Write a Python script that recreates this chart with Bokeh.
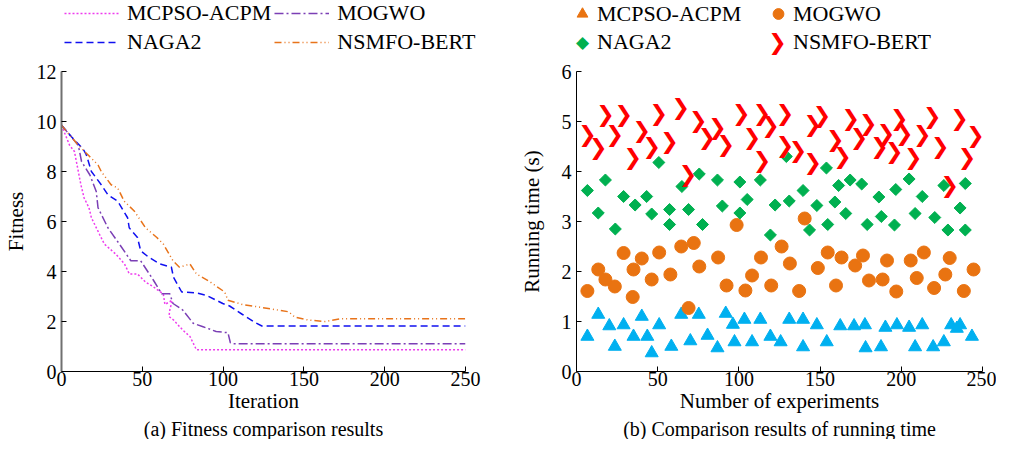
import numpy as np
from bokeh.plotting import figure
from bokeh.models import Range1d, Legend, LegendItem, Title, ColumnDataSource, Label
from bokeh.layouts import row, column
from bokeh.embed import file_html
from bokeh.resources import INLINE
from bokeh.core.properties import value

FONT = "Liberation Serif"

# ---------------- (a) Fitness comparison data ----------------
names = ["MCPSO-ACPM", "MOGWO", "NAGA2", "NSMFO-BERT"]

mcpso_it = [0, 5, 8, 12, 14, 17, 18.5, 23.5, 26.5, 33.5, 39, 42, 47, 52, 57, 63, 64, 68.5, 67, 66.5, 69.5, 75, 79.5, 83.5, 250]
mcpso_fit = [9.85, 9.05, 8.8, 7.47, 6.94, 6.55, 6.15, 5.49, 5.1, 4.7, 4.3, 3.9, 3.9, 3.58, 3.38, 3.1, 2.68, 2.85, 2.45, 2.2, 2.05, 1.66, 1.4, 0.87, 0.87]

mogwo_it = [0, 10.4, 12.4, 17.5, 21.5, 22.6, 28.7, 35.8, 42.9, 49, 57, 62, 67, 69, 75, 81.5, 87.6, 95.7, 103, 104.5, 106, 250]
mogwo_fit = [9.85, 9.05, 8.4, 7.87, 7.2, 6.55, 5.75, 5.1, 4.43, 4.43, 3.64, 3.11, 3.11, 2.72, 2.46, 1.93, 1.79, 1.6, 1.55, 1.15, 1.11, 1.11]

naga_it = [0, 6.3, 13.4, 15.4, 18.5, 24.6, 28.7, 34.8, 40.9, 41.9, 47, 49, 54, 61, 68, 69.3, 74.4, 83.5, 89.6, 99.8, 104, 112, 120, 124, 250]
naga_fit = [9.85, 9.38, 8.9, 8.66, 8.0, 7.47, 7.07, 6.81, 6.15, 5.75, 5.36, 4.83, 4.57, 4.3, 4.17, 3.77, 3.18, 3.14, 3.05, 2.72, 2.62, 2.28, 1.95, 1.82, 1.82]

nsmfo_it = [0, 10.4, 16.5, 22.6, 24.6, 30.7, 34.8, 38.8, 45, 52, 59, 63, 69, 73, 79.5, 83.5, 91.6, 101, 103, 112, 128, 140.5, 144.5, 152.6, 163, 173, 250]
nsmfo_fit = [9.85, 9.05, 8.66, 8.26, 8.0, 7.47, 7.34, 6.81, 6.42, 5.75, 5.36, 5.1, 4.43, 4.17, 4.3, 3.9, 3.6, 3.18, 2.85, 2.68, 2.52, 2.39, 2.17, 2.06, 2.0, 2.11, 2.11]

fit_xticks = [0, 50, 100, 150, 200, 250]
fit_yticks = [0, 2, 4, 6, 8, 10, 12]

# ---------------- (b) Running time data ----------------
mcpso_exp = [6.7, 13.4, 20.2, 23.6, 29.0, 35.1, 40.2, 43.6, 46.3, 50.9, 58.4, 64.5, 70.1, 75.3, 80.7, 86.8, 91.9, 96.3, 97.3, 103.4,
             108.1, 113.2, 119.4, 125.7, 131.0, 139.5, 148.0, 139.5, 154.1, 162.4, 170.9, 177.6, 178.0, 187.5, 190.2, 197.3, 204.8,
             208.5, 212.9, 219.6, 226.2, 230.7, 234.2, 236.2, 243.5]
mcpso_time = [0.70, 1.14, 0.91, 0.50, 0.93, 0.70, 1.10, 0.70, 0.37, 0.93, 0.50, 1.14, 0.61, 1.14, 0.72, 0.47, 1.16, 0.94, 0.59, 1.04,
              0.59, 1.04, 0.70, 0.59, 1.04, 1.04, 0.93, 0.49, 0.59, 0.91, 0.91, 0.93, 0.47, 0.49, 0.88, 0.93, 0.88,
              0.49, 0.93, 0.49, 0.59, 0.93, 0.86, 0.93, 0.70]

mogwo_exp = [6.7, 13.4, 17.8, 23.6, 29.0, 35.1, 34.6, 40.2, 46.3, 50.9, 57.8, 64.5, 72.2, 75.6, 69.0, 87.2, 92.4, 98.6, 104.0, 108.1,
             113.6, 119.9, 126.3, 131.4, 140.5, 137.1, 148.6, 154.7, 159.8, 163.2, 171.6, 176.4, 180.1, 188.5, 191.2, 196.9, 205.8,
             209.5, 213.9, 220.2, 227.1, 229.8, 238.5, 244.5]
mogwo_time = [1.61, 2.04, 1.84, 1.70, 2.37, 2.04, 1.49, 2.26, 1.84, 2.38, 1.94, 2.50, 2.57, 2.10, 1.27, 2.28, 1.72, 2.93, 1.62, 1.92,
              2.28, 1.72, 2.50, 2.16, 3.06, 1.61, 2.07, 2.38, 1.72, 2.28, 2.12, 2.32, 1.82, 1.84, 2.22, 1.60, 2.22,
              1.87, 2.38, 1.67, 1.94, 2.27, 1.61, 2.04]

naga_exp = [50.7, 6.7, 17.8, 13.4, 29.0, 36.1, 43.2, 46.3, 23.9, 57.3, 57.3, 64.9, 69.0, 75.6, 77.6, 86.8, 89.8, 100.6, 105.1, 100.6,
            113.2, 122.3, 119.4, 129.2, 153.9, 139.5, 131.0, 148.0, 161.4, 168.5, 175.6, 159.1, 165.8, 143.5, 154.7, 179.0,
            186.2, 187.7, 196.6, 195.8, 204.8, 212.9, 208.5, 220.6, 226.2, 239.4, 236.2, 228.7, 239.4]
naga_time = [4.18, 3.62, 3.83, 3.17, 3.50, 3.33, 3.50, 3.15, 2.85, 3.24, 2.94, 3.70, 3.24, 3.95, 2.94, 3.83, 3.31, 3.79, 3.44, 3.17,
             3.83, 3.33, 2.73, 4.30, 4.07, 3.62, 3.41, 3.32, 3.72, 3.83, 3.75, 3.39, 3.16, 2.83, 2.94, 2.94,
             3.49, 3.10, 3.64, 2.93, 3.85, 3.50, 3.16, 3.08, 3.72, 3.76, 3.27, 2.83, 2.83]

nsmfo_exp = [17.8, 29.0, 50.7, 64.1, 75.0, 86.8, 101.4, 114.2, 119.4, 6.7, 13.4, 23.6, 40.2, 34.6, 46.3, 57.3, 80.3, 91.9, 108.1,
             114.2, 68.6, 128.3, 151.2, 145.5, 168.9, 179.6, 198.7, 219.0, 235.8, 245.6, 159.3, 173.9, 190.6, 201.8, 212.9,
             128.3, 136.4, 186.5, 195.6, 224.0, 207.4, 240.4, 145.5, 163.8, 229.8]
nsmfo_time = [5.15, 5.14, 5.17, 5.29, 5.02, 4.89, 5.17, 5.17, 4.92, 4.74, 4.48, 4.74, 4.83, 4.28, 4.50, 4.61, 4.69, 4.54, 4.69,
              4.22, 3.95, 5.17, 5.13, 4.94, 5.07, 4.96, 5.07, 5.10, 5.07, 4.73, 4.65, 4.69, 4.76, 4.77, 4.74,
              4.53, 4.42, 4.51, 4.40, 4.51, 4.29, 4.29, 4.18, 4.30, 3.72]

run_xticks = [0, 50, 100, 150, 200, 250]
run_yticks = [0, 1, 2, 3, 4, 5, 6]

W1, W2 = 516, 480
HL = 58
HC = 439 - HL
TOP = 79 - 8 - HL  # chart border above the frame

# colours / styles
line_styles = [("#EE3CEE", "2 2"), ("#7B3FB5", "9 3 2 3"), ("#1010F0", "7 4"), ("#E8731A", "7 3 1 3 1 3")]
TRI, CIRC, DIAM, CHEV = "#00B0F0", "#E97311", "#00B050", "#FF0000"
CHEV_CHAR = "\u276F"
DIAM_CHAR = "\u25C6"


def style(p, xticks, yticks, ycolor="black", ywidth=1):
    p.xgrid.visible = False
    p.ygrid.visible = False
    p.outline_line_color = None
    p.xaxis.ticker = xticks
    p.yaxis.ticker = yticks
    for ax in (p.xaxis[0], p.yaxis[0]):
        ax.major_label_text_font = FONT
        ax.major_label_text_font_size = "20px"
        ax.major_label_text_color = "black"
        ax.axis_label_text_font = FONT
        ax.axis_label_text_font_size = "21px"
        ax.axis_label_text_font_style = "normal"
        ax.axis_label_text_color = "black"
        ax.major_tick_in = 5
        ax.major_tick_out = 0
        ax.minor_tick_in = 0
        ax.minor_tick_out = 0
        ax.major_tick_line_color = "black"
        ax.axis_line_color = "black"
    p.yaxis.axis_line_color = ycolor
    p.yaxis.axis_line_width = ywidth
    p.xaxis.major_label_standoff = 0
    p.yaxis.major_label_standoff = 5
    p.xaxis.axis_label_standoff = 0


def caption(text, offset):
    return Title(text=text, align="center", text_font=FONT, text_font_size="20px",
                 text_font_style="normal", text_color="black", standoff=0, offset=offset)


def legend_fig(width, left):
    f = figure(width=width, height=HL, x_range=Range1d(0, 1), y_range=Range1d(0, 1),
               x_axis_location=None, y_axis_location=None, title=None,
               output_backend="svg", toolbar_location=None,
               min_border_left=left, min_border_right=0, min_border_top=0, min_border_bottom=0)
    f.grid.visible = False
    f.outline_line_color = None
    return f


def symbol(char, x, y, color, size):
    return Label(x=x, y=y, x_units="screen", y_units="screen", text=char,
                 text_font="DejaVu Sans", text_font_size=size, text_font_style="bold",
                 text_color=color, text_align="center", text_baseline="middle")


# ---------------- legend (a) ----------------
lf1 = legend_fig(W1, 64)
lr = [lf1.line([np.nan, np.nan], [np.nan, np.nan], line_color=c, line_width=1.5, line_dash=d) for c, d in line_styles]
leg1 = Legend(items=[LegendItem(label=n, renderers=[r]) for n, r in zip(names, lr)],
              orientation="horizontal", ncols=2, location="top_left",
              label_text_font=FONT, label_text_font_size="22px", label_text_color="black",
              glyph_width=55, glyph_height=20, label_height=20, label_standoff=8,
              spacing=3, padding=0, margin=0, border_line_color=None, background_fill_alpha=0)
lf1.add_layout(leg1, "center")

# ---------------- figure (a) ----------------
p1 = figure(width=W1, height=HC, title=None, x_range=Range1d(0, 250), y_range=Range1d(0, 12),
            output_backend="svg", toolbar_location=None,
            min_border_left=55, min_border_right=51, min_border_top=TOP, min_border_bottom=65)
style(p1, fit_xticks, fit_yticks, ycolor="#707070", ywidth=2)
p1.xaxis.axis_label = "Iteration"
p1.yaxis.axis_label = "Fitness"
p1.yaxis.axis_label_standoff = 6

for (c, d), xs, ys in zip(line_styles, [mcpso_it, mogwo_it, naga_it, nsmfo_it], [mcpso_fit, mogwo_fit, naga_fit, nsmfo_fit]):
    p1.line(xs, ys, line_color=c, line_width=1.5, line_dash=d)
p1.add_layout(caption("(a) Fitness comparison results", 0), "below")

# ---------------- legend (b) ----------------
lf2 = legend_fig(W2, 51)
r_tri = lf2.scatter([np.nan], [np.nan], marker="triangle", size=13, fill_color=CIRC, line_color=CIRC)
r_cir = lf2.scatter([np.nan], [np.nan], marker="circle", size=13, fill_color=CIRC, line_color=CIRC)
r_dia = lf2.scatter([np.nan], [np.nan], marker="circle", size=1, fill_alpha=0, line_alpha=0)
r_chv = lf2.scatter([np.nan], [np.nan], marker="circle", size=1, fill_alpha=0, line_alpha=0)
leg2 = Legend(items=[LegendItem(label=n, renderers=[r]) for n, r in zip(names, [r_tri, r_cir, r_dia, r_chv])],
              orientation="horizontal", ncols=2, location="top_left",
              label_text_font=FONT, label_text_font_size="22px", label_text_color="black",
              glyph_width=30, glyph_height=27, label_height=20, label_width=165, label_standoff=0,
              spacing=1, padding=0, margin=0, border_line_color=None, background_fill_alpha=0)
lf2.add_layout(leg2, "center")
# symbols of the NAGA2 / NSMFO-BERT legend entries (glyph slots of items 3 and 4)
lf2.add_layout(symbol(DIAM_CHAR, 15, HL - 41.5, DIAM, "17px"))
lf2.add_layout(symbol(CHEV_CHAR, 15 + 195, HL - 41.5, CHEV, "22px"))

# ---------------- figure (b) ----------------
p2 = figure(width=W2, height=HC, title=None, x_range=Range1d(0, 250), y_range=Range1d(0, 6),
            output_backend="svg", toolbar_location=None,
            min_border_left=55, min_border_right=14, min_border_top=TOP, min_border_bottom=65)
style(p2, run_xticks, run_yticks)
p2.xaxis.axis_label = "Number of experiments"
p2.yaxis.axis_label = "Running time (s)"
p2.yaxis.axis_label_standoff = 15

p2.scatter(mcpso_exp, mcpso_time, marker="triangle", size=13, fill_color=TRI, line_color=TRI)
p2.scatter(mogwo_exp, mogwo_time, marker="circle", size=13, fill_color=CIRC, line_color=CIRC)
p2.scatter(naga_exp, naga_time, marker="square", angle=np.pi / 4, size=8.5, fill_color=DIAM, line_color=DIAM)
chev_src = ColumnDataSource(dict(x=nsmfo_exp, y=nsmfo_time, t=[CHEV_CHAR] * len(nsmfo_exp)))
p2.text(x="x", y="y", text="t", source=chev_src, text_font=value("DejaVu Sans"), text_font_size="22px",
        text_font_style="bold", text_color=CHEV, text_align="center", text_baseline="middle")
p2.add_layout(caption("(b) Comparison results of running time", 19), "below")

layout = column(row(lf1, lf2), row(p1, p2))
open("out.html", "w").write(file_html(layout, INLINE))
